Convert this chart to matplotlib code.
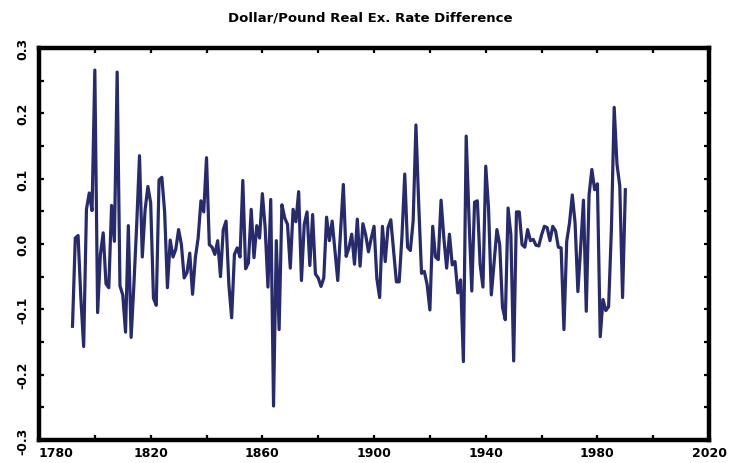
import numpy as np
import matplotlib
matplotlib.use("Agg")
import matplotlib.pyplot as plt
from matplotlib.ticker import MultipleLocator

plt.rcParams['axes.unicode_minus'] = False
plt.rcParams['font.family'] = ['DejaVu Sans']

# yearly real exchange rate differences, 1792-1990
first_year = 1792
diffs = [
    -0.126, 0.009, 0.013, -0.083, -0.157, 0.053, 0.078, 0.051, 0.266, -0.105,
    -0.016, 0.017, -0.061, -0.067, 0.059, 0.004, 0.263, -0.064, -0.078, -0.135,
    0.028, -0.143, -0.062, 0.030, 0.135, -0.020, 0.052, 0.088, 0.063, -0.083,
    -0.094, 0.098, 0.102, 0.049, -0.067, 0.006, -0.020, -0.008, 0.022, -0.001,
    -0.052, -0.044, -0.014, -0.077, -0.021, 0.009, 0.066, 0.049, 0.132, -0.001,
    -0.005, -0.016, 0.005, -0.050, 0.022, 0.035, -0.062, -0.113, -0.016, -0.006,
    -0.020, 0.097, -0.038, -0.029, 0.053, -0.021, 0.028, 0.009, 0.077, 0.025,
    -0.066, 0.068, -0.248, 0.005, -0.131, 0.060, 0.040, 0.030, -0.037, 0.053,
    0.034, 0.080, -0.056, 0.030, 0.049, -0.033, 0.045, -0.046, -0.052, -0.065,
    -0.052, 0.041, 0.005, 0.035, -0.011, -0.056, 0.019, 0.091, -0.019, -0.006,
    0.015, -0.031, 0.038, -0.034, 0.031, 0.014, -0.012, 0.009, 0.027, -0.053,
    -0.082, 0.027, -0.027, 0.025, 0.037, -0.011, -0.058, -0.058, 0.012, 0.107,
    -0.005, -0.010, 0.035, 0.182, 0.060, -0.045, -0.042, -0.062, -0.101, 0.027,
    -0.020, -0.024, 0.067, 0.009, -0.037, 0.015, -0.032, -0.027, -0.075, -0.055,
    -0.180, 0.165, 0.040, -0.072, 0.064, 0.066, -0.032, -0.066, 0.119, 0.055,
    -0.078, -0.027, 0.022, -0.001, -0.097, -0.116, 0.055, 0.014, -0.179, 0.049,
    0.049, -0.001, -0.005, 0.022, 0.005, 0.007, -0.002, -0.003, 0.014, 0.027,
    0.025, 0.005, 0.027, 0.020, -0.005, -0.006, -0.131, 0.004, 0.032, 0.075,
    0.032, -0.073, -0.005, 0.067, -0.103, 0.075, 0.114, 0.083, 0.092, -0.142,
    -0.085, -0.102, -0.096, 0.022, 0.209, 0.122, 0.089, -0.082, 0.083,
]
years = np.arange(first_year, first_year + len(diffs))

x_ticks = [1780, 1820, 1860, 1900, 1940, 1980, 2020]
y_ticks = [-0.3, -0.2, -0.1, 0.0, 0.1, 0.2, 0.3]

fig = plt.figure(figsize=(7.3, 4.64), dpi=100)
ax = fig.add_axes([0.0534, 0.0496, 0.918, 0.845])

ax.plot(years, diffs, color='#272a6c', lw=2.3, solid_joinstyle='round')

ax.set_xlim(1780, 2020)
ax.set_ylim(-0.3, 0.3)
ax.set_xticks(x_ticks)
ax.xaxis.set_minor_locator(MultipleLocator(20))
ax.set_yticks(y_ticks)
ax.yaxis.set_minor_locator(MultipleLocator(0.05))
ax.set_xticklabels([str(t) for t in x_ticks], fontsize=9, fontweight='heavy')
ax.set_yticklabels(['%.1f' % t for t in y_ticks], fontsize=9, fontweight='heavy',
                   rotation=90, va='center')
ax.get_xticklabels()[0].set_ha('left')

for which in ('major', 'minor'):
    ax.tick_params(which=which, direction='in', length=3.5, width=1.6,
                   top=True, right=True, color='black')
ax.tick_params(axis='x', pad=4)
ax.tick_params(axis='y', pad=7)

for s in ax.spines.values():
    s.set_linewidth(3.2)

fig.text(0.507, 0.962, 'Dollar/Pound Real Ex. Rate Difference',
         ha='center', va='center', fontsize=9.5, fontweight='heavy')

fig.savefig('out.png', dpi=100)
